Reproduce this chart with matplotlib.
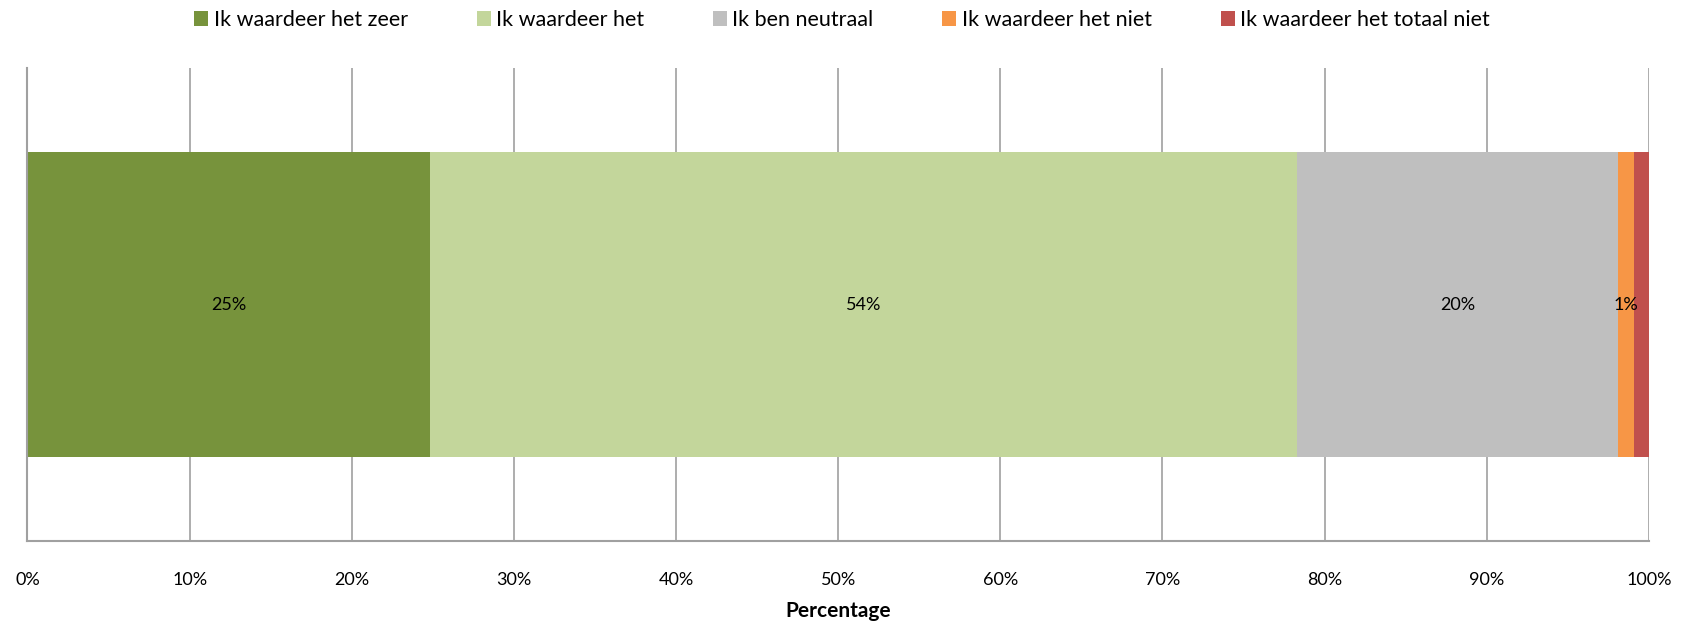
import matplotlib.pyplot as plt

# Data
categories = ['Ik waardeer het zeer', 'Ik waardeer het', 'Ik ben neutraal',
              'Ik waardeer het niet', 'Ik waardeer het totaal niet']
values = [24.8, 53.5, 19.8, 1.0, 0.9]
labels = ['25%', '54%', '20%', '1%', '']
colors = ['#77933C', '#C3D69B', '#BFBFBF', '#F79646', '#C0504D']
ticks = [0, 10, 20, 30, 40, 50, 60, 70, 80, 90, 100]

plt.rcParams['font.family'] = ['Lato', 'DejaVu Sans']

fig = plt.figure(figsize=(16.84, 6.28), dpi=100)
ax = fig.add_axes([0.0163, 0.1385, 0.9628, 0.7532])

left = 0
for name, val, lab, col in zip(categories, values, labels, colors):
    ax.barh(0, val, left=left, height=0.645, color=col, label=name, zorder=2)
    if lab:
        ax.text(left + val / 2, 0, lab, ha='center', va='center', fontsize=13, color='black', zorder=3)
    left += val

ax.set_xlim(0, 100)
ax.set_ylim(-0.5, 0.5)
ax.set_xticks(ticks)
ax.set_xticklabels([f'{t}%' for t in ticks], fontsize=13)
ax.set_yticks([])
ax.tick_params(axis='x', length=0, pad=22)
ax.grid(axis='x', color='#A0A0A0', linewidth=1.2, zorder=0)
for s in ['top', 'right']:
    ax.spines[s].set_visible(False)
for s in ['left', 'bottom']:
    ax.spines[s].set_color('#A0A0A0')
    ax.spines[s].set_linewidth(1.5)

ax.set_xlabel('Percentage', fontsize=15, fontweight='bold', labelpad=10)

handles, names = ax.get_legend_handles_labels()
fig.legend(handles, names, loc='center', bbox_to_anchor=(0.5, 0.968), ncol=5, frameon=False,
           fontsize=15.5, handlelength=0.65, handleheight=0.65, handletextpad=0.25,
           columnspacing=3.2)

fig.savefig('out.png', dpi=100)
